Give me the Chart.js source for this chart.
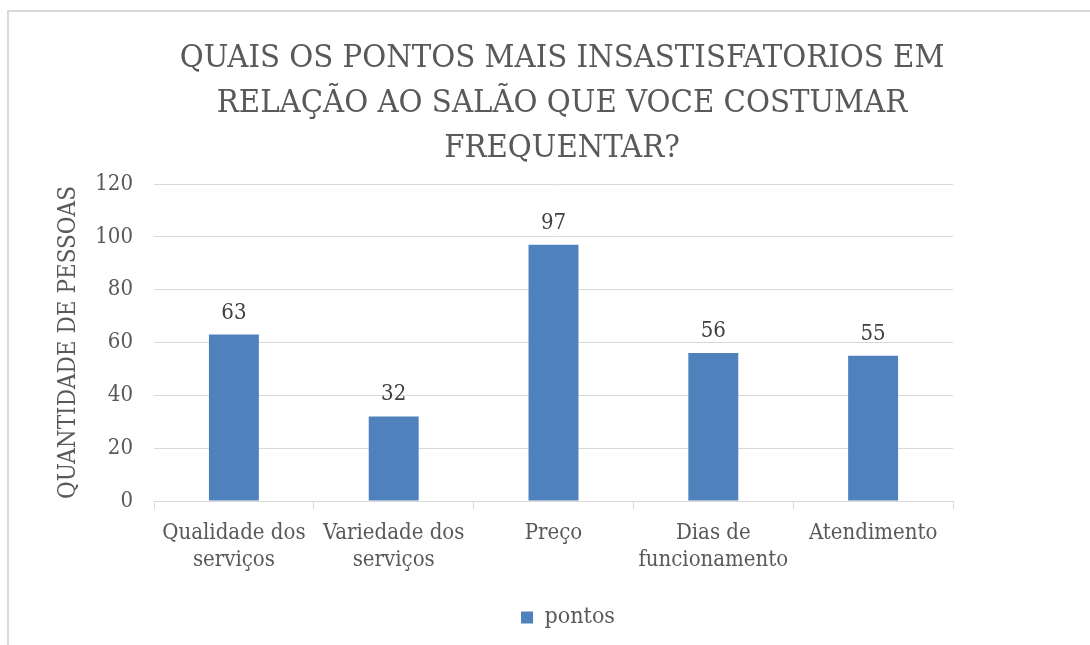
<!DOCTYPE html>
<html><head><meta charset="utf-8">
<script src="https://cdn.jsdelivr.net/npm/chart.js@4/dist/chart.umd.min.js"></script>
<style>
html,body{margin:0;padding:0;background:#fff;overflow:hidden;width:1090px;height:645px;}
#frame{position:absolute;left:7px;top:10px;width:1200px;height:800px;border-left:2px solid #d9d9d9;border-top:2px solid #d9d9d9;}
#wrap{position:absolute;left:0;top:0;width:1090px;height:645px;}
</style></head><body>
<div id="frame"></div>
<div id="wrap"><canvas id="c" width="1090" height="645"></canvas></div>
<script>
const categories = [['Qualidade dos','serviços'],['Variedade dos','serviços'],'Preço',['Dias de','funcionamento'],'Atendimento'];
const pontos = [63, 32, 97, 56, 55];
const yTicks = [0, 20, 40, 60, 80, 100, 120];
const titleLines = ['QUAIS OS PONTOS MAIS INSASTISFATORIOS EM','RELAÇÃO AO SALÃO QUE VOCE COSTUMAR','FREQUENTAR?'];
const seriesName = 'pontos';
const yAxisTitle = 'QUANTIDADE DE PESSOAS';

const FF = '"DejaVu Serif Condensed", "DejaVu Serif", serif';
const GRAY = '#595959';

const valueLabels = {
  id: 'valueLabels',
  afterDatasetsDraw(chart) {
    const ctx = chart.ctx;
    const meta = chart.getDatasetMeta(0);
    const vals = chart.data.datasets[0].data;
    ctx.save();
    ctx.font = '22px ' + FF;
    ctx.fillStyle = '#404040';
    ctx.textAlign = 'center';
    ctx.textBaseline = 'alphabetic';
    meta.data.forEach((el, i) => ctx.fillText(String(vals[i]), el.x, el.y - 16));
    ctx.restore();
  }
};

const legendNudge = {
  id: 'legendNudge',
  afterLayout(chart) {
    if (chart.legend) { chart.legend.left += 6; chart.legend.right += 6; }
  }
};

new Chart(document.getElementById('c'), {
  type: 'bar',
  data: {
    labels: categories,
    datasets: [{
      label: seriesName,
      data: pontos,
      backgroundColor: '#4F81BD',
      borderWidth: 0,
      categoryPercentage: 1,
      barPercentage: 0.3125
    }]
  },
  options: {
    responsive: false,
    animation: false,
    layout: { padding: { left: 56, right: 22, top: 0, bottom: 6 } },
    plugins: {
      tooltip: { enabled: false },
      title: {
        display: true,
        text: titleLines,
        color: GRAY,
        font: { family: FF, size: 32.5, weight: 'normal', lineHeight: '45px' },
        padding: { top: 36, bottom: 13 }
      },
      legend: {
        position: 'bottom',
        labels: {
          color: GRAY,
          boxWidth: 12,
          boxHeight: 12,
          padding: 10,
          font: { family: FF, size: 23 }
        }
      }
    },
    scales: {
      x: {
        grid: { drawOnChartArea: false, drawTicks: true, tickLength: 8, color: '#d9d9d9' },
        border: { color: '#d9d9d9', width: 1 },
        ticks: {
          color: GRAY, maxRotation: 0, autoSkip: false, padding: 11,
          font: { family: FF, size: 22, lineHeight: '27px' }
        },
        afterFit(s) { s.height = 95; }
      },
      y: {
        min: 0, max: 120,
        afterBuildTicks(s) { s.ticks = yTicks.map(v => ({ value: v })); },
        grid: { color: '#d9d9d9', lineWidth: 1, drawTicks: false, tickLength: 0 },
        border: { display: false },
        ticks: { color: GRAY, padding: 21, font: { family: FF, size: 22 } },
        title: { display: true, text: yAxisTitle, color: GRAY, padding: 0, font: { family: FF, size: 24, lineHeight: '26px' } },
        afterFit(s) { s.width = 98; }
      },
      pad: {
        position: 'right',
        display: true,
        grid: { display: false },
        border: { display: false },
        ticks: { display: false },
        afterFit(s) { s.width = 115; }
      }
    }
  },
  plugins: [valueLabels, legendNudge]
});
</script>
</body></html>
